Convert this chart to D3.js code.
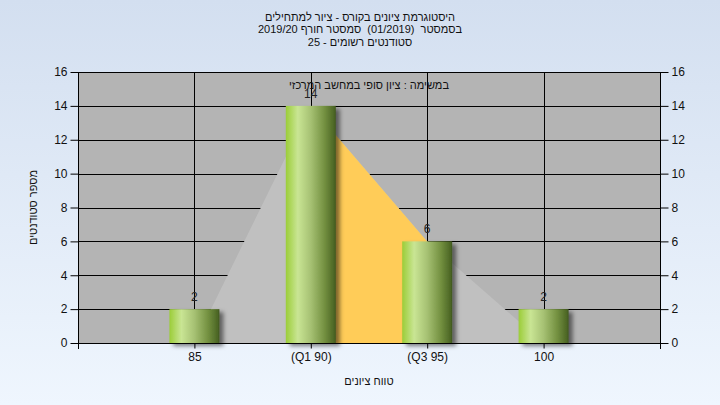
<!DOCTYPE html>
<html><head><meta charset="utf-8">
<script src="https://cdn.jsdelivr.net/npm/d3@7"></script>
<style>
html,body{margin:0;padding:0;}
svg{display:block;font-family:"Liberation Sans",Arial,sans-serif;}
text{white-space:pre;}
.rtl{direction:rtl;unicode-bidi:embed;}
</style></head>
<body>
<script>
// ---- data ----
const categories = ["85", "(Q1 90)", "(Q3 95)", "100"];
const counts = [2, 14, 6, 2];
const areaValues = [0, 14, 6, 0];      // background distribution polygon
const q1Index = 1, q3Index = 2;        // highlighted inter-quartile section
const yTicks = [0, 2, 4, 6, 8, 10, 12, 14, 16];
const titleLines = [
  "היסטוגרמת ציונים בקורס - ציור למתחילים",
  "בסמסטר  (01/2019)  סמסטר חורף 2019/20",
  "סטודנטים רשומים - 25"
];
const subTitle = "במשימה : ציון סופי במחשב המרכזי";
const xTitle = "טווח ציונים";
const yTitle = "מספר סטודנטים";

const W = 720, H = 405;
const m = {left: 78, right: 660, top: 72, bottom: 343};

const svg = d3.select("body").append("svg").attr("width", W).attr("height", H);
const defs = svg.append("defs");

const bg = defs.append("linearGradient").attr("id", "bg").attr("x1", 0).attr("y1", 0).attr("x2", 0).attr("y2", 1);
bg.append("stop").attr("offset", "0%").attr("stop-color", "#d3dff0");
bg.append("stop").attr("offset", "100%").attr("stop-color", "#eff6fe");

const bar = defs.append("linearGradient").attr("id", "bar").attr("x1", 0).attr("y1", 0).attr("x2", 1).attr("y2", 0);
[["0%", "#9bcd38"], ["24%", "#c9e594"], ["50%", "#a6c173"], ["78%", "#728f3f"], ["97%", "#4b6524"], ["100%", "#3d521c"]]
  .forEach(([o, c]) => bar.append("stop").attr("offset", o).attr("stop-color", c));

const sh = defs.append("filter").attr("id", "shadow").attr("x", "-20%").attr("y", "-20%").attr("width", "160%").attr("height", "140%");
sh.append("feDropShadow").attr("dx", 4).attr("dy", 3).attr("stdDeviation", 2)
  .attr("flood-color", "#000").attr("flood-opacity", 0.5);

svg.append("rect").attr("width", W).attr("height", H).attr("fill", "url(#bg)");

const x = d3.scaleLinear().domain([0, categories.length + 1]).range([m.left, m.right]);
const xi = i => x(i + 1);
const y = d3.scaleLinear().domain([0, 16]).range([m.bottom, m.top]);

// plot background
svg.append("rect").attr("x", m.left).attr("y", m.top).attr("width", m.right - m.left)
  .attr("height", m.bottom - m.top).attr("fill", "#b4b4b4");

// gridlines
svg.append("g").selectAll("line").data(yTicks).join("line")
  .attr("x1", m.left).attr("x2", m.right)
  .attr("y1", d => Math.round(y(d)) + 0.5).attr("y2", d => Math.round(y(d)) + 0.5)
  .attr("stroke", "#000").attr("stroke-width", 1);
svg.append("g").selectAll("line").data(categories).join("line")
  .attr("x1", (d, i) => Math.round(xi(i)) + 0.5).attr("x2", (d, i) => Math.round(xi(i)) + 0.5)
  .attr("y1", m.top).attr("y2", m.bottom)
  .attr("stroke", "#000").attr("stroke-width", 1);

// distribution area
const area = d3.area().x(d => xi(d.i)).y0(y(0)).y1(d => y(d.v));
const pts = areaValues.map((v, i) => ({i, v}));
svg.append("path").datum(pts).attr("d", area).attr("fill", "#c0c0c0");
svg.append("path").datum(pts.slice(q1Index, q3Index + 1)).attr("d", area).attr("fill", "#ffcc58");

// bars
const bw = 50;
svg.append("g").attr("filter", "url(#shadow)").selectAll("rect").data(counts).join("rect")
  .attr("x", (d, i) => xi(i) - bw / 2).attr("width", bw)
  .attr("y", d => y(d)).attr("height", d => y(0) - y(d))
  .attr("fill", "url(#bar)");

// value labels
svg.append("g").selectAll("text").data(counts).join("text")
  .attr("x", (d, i) => xi(i)).attr("y", d => y(d) - 8)
  .attr("text-anchor", "middle").attr("font-size", 12).attr("fill", "#222")
  .text(d => d);

// axes
const yl = d3.axisLeft(y).tickValues(yTicks).tickSize(8).tickPadding(3);
const yr = d3.axisRight(y).tickValues(yTicks).tickSize(8).tickPadding(3);
const gl = svg.append("g").attr("transform", `translate(${m.left + 0.5},0)`).call(yl);
const gr = svg.append("g").attr("transform", `translate(${m.right + 0.5},0)`).call(yr);
const xb = d3.axisBottom(d3.scalePoint().domain(categories).range([xi(0), xi(categories.length - 1)]))
  .tickSize(5).tickPadding(4);
const gb = svg.append("g").attr("transform", `translate(0,${m.bottom + 0.5})`).call(xb);
[gl, gr, gb].forEach(g => {
  g.select(".domain").remove();
  g.selectAll("line").attr("stroke", "#000");
  g.selectAll("text").attr("font-size", 12).attr("fill", "#111")
    .attr("font-family", "'Liberation Sans',Arial,sans-serif");
});
// axis lines
svg.append("line").attr("x1", m.left + 0.5).attr("x2", m.left + 0.5).attr("y1", m.top).attr("y2", m.bottom + 6).attr("stroke", "#000");
svg.append("line").attr("x1", m.right + 0.5).attr("x2", m.right + 0.5).attr("y1", m.top).attr("y2", m.bottom + 6).attr("stroke", "#000");
svg.append("line").attr("x1", m.left).attr("x2", m.right + 1).attr("y1", m.bottom + 0.5).attr("y2", m.bottom + 0.5).attr("stroke", "#000");

// titles (right-to-left Hebrew)
svg.append("g").selectAll("text").data(titleLines).join("text")
  .attr("class", "rtl")
  .attr("x", W / 2).attr("y", (d, i) => 21 + i * 12.4)
  .attr("text-anchor", "middle").attr("font-size", 11).attr("fill", "#111")
  .text(d => d);
const cx = (m.left + m.right) / 2;
svg.append("text").attr("class", "rtl").attr("x", cx).attr("y", 89).attr("text-anchor", "middle")
  .attr("font-size", 11).attr("fill", "#111").text(subTitle);
svg.append("text").attr("class", "rtl").attr("x", cx).attr("y", 385).attr("text-anchor", "middle")
  .attr("font-size", 11).attr("fill", "#111").text(xTitle);
svg.append("text").attr("class", "rtl").attr("transform", `translate(37,${(m.top + m.bottom) / 2}) rotate(-90)`)
  .attr("text-anchor", "middle").attr("font-size", 11).attr("fill", "#111").text(yTitle);
</script>
</body></html>
